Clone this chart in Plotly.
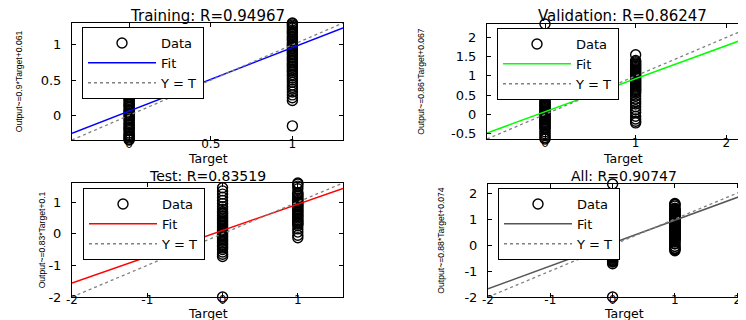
import plotly.graph_objects as go

# ---------------- data ----------------
titles = ["Training: R=0.94967", "Validation: R=0.86247", "Test: R=0.83519", "All: R=0.90747"]
ylabels = ["Output~=0.9*Target+0.061", "Output~=0.86*Target+0.067",
           "Output~=0.83*Target+0.1", "Output~=0.88*Target+0.074"]
xlabel = "Target"
fit_slope = [0.9, 0.86, 0.83, 0.88]
fit_intercept = [0.061, 0.067, 0.1, 0.074]

# network outputs, grouped by target value (0 or 1)
train_out_t0 = [-0.35, -0.34, -0.32, -0.30, -0.29, -0.27, -0.25, -0.22, -0.20, -0.18, -0.17,
                -0.14, -0.12, -0.10, -0.07, -0.05, -0.03, -0.01, 0.01, 0.03, 0.05, 0.06, 0.08,
                0.11, 0.13, 0.15, 0.16, 0.19, 0.21, 0.23, 0.25, 0.27, 0.30, 0.32, 0.34, 0.36,
                0.38, 0.41, 0.43, 0.45, 0.47, 0.50, 0.52, 0.55, 0.57, 0.58]
train_out_t1 = [1.31, 1.30, 1.28, 1.26, 1.24, 1.21, 1.19, 1.17, 1.15, 1.12, 1.10, 1.08, 1.06,
                1.03, 1.01, 0.99, 0.97, 0.95, 0.92, 0.90, 0.88, 0.86, 0.83, 0.81, 0.79, 0.77,
                0.74, 0.72, 0.70, 0.68, 0.65, 0.63, 0.61, 0.58, 0.56, 0.53, 0.50, 0.47, 0.43,
                0.40, 0.37, 0.33, 0.29, 0.25, 0.21, -0.15]
val_out_t0 = [2.35, 1.23, 1.17, 1.12, 1.07, 1.02, 0.96, 0.90, 0.82, 0.72, 0.63, 0.55, 0.48,
              0.42, 0.37, 0.33, 0.30, 0.27, 0.24, 0.21, 0.18, 0.15, 0.12, 0.09, 0.06, 0.03,
              0.00, -0.03, -0.06, -0.09, -0.12, -0.15, -0.18, -0.21, -0.24, -0.27, -0.30,
              -0.33, -0.36, -0.39, -0.45, -0.50, -0.55, -0.60, -0.64]
val_out_t1 = [1.55, 1.40, 1.37, 1.34, 1.31, 1.28, 1.25, 1.22, 1.19, 1.16, 1.13, 1.10, 1.07,
              1.04, 1.01, 0.98, 0.95, 0.92, 0.89, 0.86, 0.83, 0.80, 0.77, 0.74, 0.71, 0.68,
              0.65, 0.62, 0.59, 0.55, 0.48, 0.40, 0.33, 0.27, 0.20, 0.12, 0.05, -0.05, -0.12,
              -0.18, -0.22]
test_out_t0 = [-2.0, 1.45, 1.35, 1.25, 1.15, 1.05, 0.95, 0.85, 0.77, 0.70, 0.66, 0.62, 0.57,
               0.53, 0.49, 0.44, 0.40, 0.36, 0.31, 0.27, 0.23, 0.18, 0.14, 0.10, 0.06, 0.02,
               -0.03, -0.07, -0.11, -0.16, -0.20, -0.24, -0.29, -0.33, -0.37, -0.41, -0.45,
               -0.50, -0.58, -0.65, -0.72]
test_out_t1 = [1.60, 1.57, 1.50, 1.42, 1.30, 1.26, 1.22, 1.18, 1.13, 1.09, 1.05, 1.01, 0.96,
               0.92, 0.88, 0.84, 0.79, 0.75, 0.71, 0.67, 0.62, 0.58, 0.54, 0.50, 0.45, 0.41,
               0.37, 0.33, 0.30, 0.25, 0.15, 0.05, -0.05, -0.13]
all_out_t0 = train_out_t0 + val_out_t0 + test_out_t0
all_out_t1 = train_out_t1 + val_out_t1 + test_out_t1

# tick values
train_xticks = [0, 0.5, 1]
train_yticks = [0, 0.5, 1]
val_xticks = [0, 1, 2]
val_yticks = [-0.5, 0, 0.5, 1, 1.5, 2]
test_xticks = [-2, -1, 0, 1]
test_yticks = [-2, -1, 0, 1]
all_xticks = [-2, -1, 0, 1, 2]
all_yticks = [-2, -1, 0, 1, 2]

# ---------------- layout / styling ----------------
W, H = 746, 320
OFF = 8  # default page body margin shifts the figure by this many px
FONT = "DejaVu Sans"
YFONT = "Liberation Sans, Arial"
fit_colors = ["#0000ff", "#00ff00", "#ff0000", "#555555"]
FULL_W = 271
# page-pixel geometry: left, top, bottom of each plot box
geom = [(72, 23, 140), (487, 24, 139), (72, 183, 297), (488, 184, 297)]
legend_px = [(82, 27), (497, 28), (83, 188), (498, 188)]
title_cy = [15.5, 15.5, 176, 176]
title_size = [15, 15, 14, 14]
xtitle_cy = [158, 158, 313, 313]
xtick_standoff = [-7, -7, -8, -8]
ytitle_standoff = [16, 25, 1, 18]


def px_x(p):
    return (p - OFF) / W


def px_y(p):
    return 1 - (p - OFF) / H


panels = [
    (train_out_t0, train_out_t1, train_xticks, train_yticks),
    (val_out_t0, val_out_t1, val_xticks, val_yticks),
    (test_out_t0, test_out_t1, test_xticks, test_yticks),
    (all_out_t0, all_out_t1, all_xticks, all_yticks),
]

fig = go.Figure()
layout = dict(width=W, height=H, margin=dict(l=0, r=0, t=0, b=0),
              paper_bgcolor="white", plot_bgcolor="white",
              font=dict(family=FONT, size=12, color="black"), annotations=[])

for i, (t0, t1, xt, yt) in enumerate(panels):
    outs = t0 + t1
    targets = [0] * len(t0) + [1] * len(t1)
    lo = min(outs + [0])
    hi = max(outs + [1])
    s, b = fit_slope[i], fit_intercept[i]
    n = "" if i == 0 else str(i + 1)
    xa, ya = "x" + n, "y" + n
    leg = "legend" + n
    fig.add_trace(go.Scatter(x=targets, y=outs, mode="markers", name="Data",
                             marker=dict(symbol="circle-open", size=10, color="black",
                                         line=dict(width=1.4)),
                             xaxis=xa, yaxis=ya, legend=leg, cliponaxis=False))
    fig.add_trace(go.Scatter(x=[lo, hi], y=[s * lo + b, s * hi + b], mode="lines", name="Fit",
                             line=dict(color=fit_colors[i], width=1.5),
                             xaxis=xa, yaxis=ya, legend=leg))
    fig.add_trace(go.Scatter(x=[lo, hi], y=[lo, hi], mode="lines", name="Y = T",
                             line=dict(color="#808080", width=1.3, dash="dot"),
                             xaxis=xa, yaxis=ya, legend=leg))

    left, top, bottom = geom[i]
    fl = left - OFF
    fr = min(fl + FULL_W, W)
    xhi = lo + (hi - lo) * (fr - fl) / FULL_W
    layout["xaxis" + n] = dict(
        domain=[fl / W, fr / W], anchor=ya, range=[lo, xhi],
        tickvals=xt, ticktext=[format(v, "g") for v in xt],
        ticks="inside", ticklen=4, tickcolor="black", showline=True, linecolor="black",
        linewidth=1, mirror="ticks", showgrid=False, zeroline=False,
        tickfont=dict(family=FONT, size=12), ticklabelstandoff=xtick_standoff[i],
        automargin=False)
    layout["yaxis" + n] = dict(
        domain=[px_y(bottom), px_y(top)], anchor=xa, range=[lo, hi],
        tickvals=yt, ticktext=[format(v, "g") for v in yt],
        ticks="inside", ticklen=4, tickcolor="black", showline=True, linecolor="black",
        linewidth=1, mirror="ticks", showgrid=False, zeroline=False,
        tickfont=dict(family=FONT, size=13), ticklabelstandoff=7,
        title=dict(text=ylabels[i], font=dict(family=YFONT, size=8.6),
                   standoff=ytitle_standoff[i]),
        automargin=False)
    lx, ly = legend_px[i]
    layout[leg] = dict(x=px_x(lx), y=px_y(ly), xanchor="left", yanchor="top",
                       bgcolor="white", bordercolor="black", borderwidth=1,
                       font=dict(family=FONT, size=13), itemwidth=68,
                       tracegroupgap=0)
    cx = left + FULL_W / 2
    layout["annotations"].append(dict(
        text=titles[i], x=px_x(cx), y=px_y(title_cy[i]), xref="paper", yref="paper",
        xanchor="center", yanchor="middle", showarrow=False,
        font=dict(family=FONT, size=title_size[i], color="black")))
    layout["annotations"].append(dict(
        text=xlabel, x=px_x(cx), y=px_y(xtitle_cy[i]), xref="paper", yref="paper",
        xanchor="center", yanchor="middle", showarrow=False,
        font=dict(family=FONT, size=12.5, color="black")))

fig.update_layout(**layout)
fig.write_html("out.html")
